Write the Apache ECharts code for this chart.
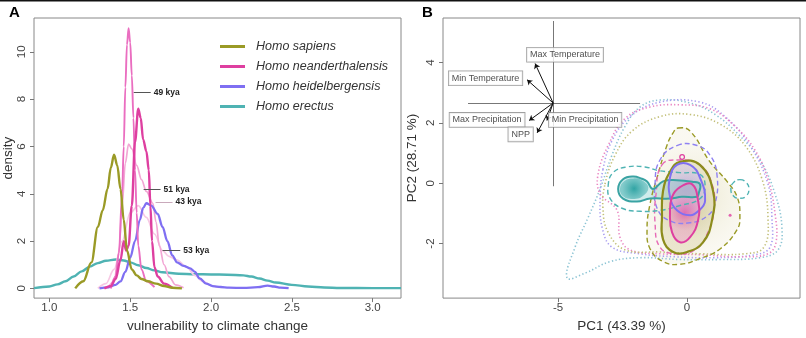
<!DOCTYPE html>
<html><head><meta charset="utf-8">
<script src="https://cdn.jsdelivr.net/npm/echarts@6/dist/echarts.min.js"></script>
<style>html,body{margin:0;padding:0;background:#fff}#c{width:806px;height:338px}</style>
</head><body><div id="c"></div>
<script>
// ---------- Panel A: density curves (x = vulnerability, y = density) ----------
const xTicksA = [1.0, 1.5, 2.0, 2.5, 3.0];
const yTicksA = [0, 2, 4, 6, 8, 10];
const speciesNames = ['Homo sapiens', 'Homo neanderthalensis', 'Homo heidelbergensis', 'Homo erectus'];

const sapiens = [[1.16,0],[1.21,0.3],[1.26,1.1],[1.3,2.6],[1.33,3.3],[1.36,4.2],[1.38,5.1],[1.4,5.65],[1.42,5.2],[1.44,4.2],[1.46,2.9],[1.48,1.6],[1.51,0.8],[1.54,0.55],[1.57,0.4],[1.61,0.3],[1.66,0.2],[1.71,0.1],[1.76,0.03],[1.82,0]];
const erectus = [[0.905,0.01],[1.0,0.08],[1.05,0.17],[1.1,0.3],[1.15,0.5],[1.2,0.72],[1.25,0.92],[1.3,1.07],[1.35,1.17],[1.41,1.22],[1.46,1.18],[1.5,1.1],[1.55,0.98],[1.6,0.86],[1.65,0.76],[1.7,0.68],[1.8,0.62],[1.9,0.6],[2.0,0.59],[2.1,0.58],[2.2,0.55],[2.25,0.5],[2.3,0.42],[2.35,0.33],[2.4,0.25],[2.5,0.15],[2.6,0.08],[2.7,0.04],[2.8,0.02],[3.0,0.01],[3.175,0.01]];
const heidelbergensis = [[1.31,0],[1.36,0.04],[1.41,0.15],[1.44,0.3],[1.47,0.7],[1.5,1.3],[1.53,2.0],[1.56,2.9],[1.58,3.4],[1.6,3.6],[1.63,3.5],[1.67,3.15],[1.7,2.6],[1.73,2.0],[1.76,1.4],[1.79,1.1],[1.83,0.95],[1.87,0.85],[1.9,0.7],[1.93,0.42],[1.97,0.2],[2.01,0.1],[2.06,0.06],[2.11,0.03],[2.2,0.02],[2.29,0.05],[2.35,0.12],[2.39,0.08],[2.43,0.03],[2.48,0.01]];
const nean51 = [[1.34,0],[1.38,0.1],[1.41,0.4],[1.44,1.2],[1.46,2.0],[1.475,1.6],[1.49,1.8],[1.51,3.5],[1.53,6.2],[1.55,7.6],[1.565,7.2],[1.58,6.3],[1.6,5.8],[1.615,5.0],[1.625,3.5],[1.635,2.0],[1.65,0.9],[1.67,0.5],[1.71,0.2],[1.76,0.03]];
const nean49 = [[1.38,0],[1.41,0.5],[1.43,1.5],[1.45,4.0],[1.46,6.0],[1.47,8.5],[1.48,10.3],[1.49,11.0],[1.5,10.4],[1.51,9.0],[1.52,7.2],[1.53,5.0],[1.54,3.2],[1.55,1.8],[1.57,0.8],[1.6,0.3],[1.65,0.05]];
const nean43 = [[1.36,0],[1.4,0.3],[1.43,1.5],[1.45,3.5],[1.47,5.3],[1.49,6.1],[1.51,5.9],[1.54,5.2],[1.57,4.6],[1.6,4.1],[1.64,3.6],[1.66,2.8],[1.68,1.8],[1.71,1.0],[1.74,0.5],[1.78,0.15],[1.83,0.03]];
const nean53 = [[1.3,0],[1.35,0.2],[1.4,0.8],[1.45,2.0],[1.5,3.2],[1.55,3.5],[1.6,3.0],[1.65,2.3],[1.7,1.6],[1.74,1.35],[1.79,1.2],[1.85,0.9],[1.9,0.55],[1.95,0.3],[2.0,0.12],[2.05,0.04]];

// annotations
const kyaLabels = ['49 kya', '51 kya', '43 kya', '53 kya'];
const kyaStart = [1.522, 1.583, 1.657, 1.70];
const kyaEnd = [1.627, 1.688, 1.762, 1.81];
const kyaY = [8.28, 4.18, 3.65, 1.6];

// ---------- Panel B: PCA ----------
const xTicksB = [-5, 0];
const yTicksB = [-2, 0, 2, 4];
const loadNames = ['Max Temperature', 'Min Temperature', 'Max Precipitation', 'Min Precipitation', 'NPP'];
const loadOrigin = [-5.19, 2.66];
const loadTips = [[-5.89,3.97],[-6.20,3.43],[-6.12,2.08],[-5.43,2.08],[-5.81,1.67]];
const loadLabelPos = [[-4.73,4.26],[-7.81,3.48],[-7.75,2.10],[-3.95,2.10],[-6.45,1.62]];
const refVertical = [[-5.19,5.38],[-5.19,-0.1]];
const refHorizontal = [[-8.49,2.66],[-1.82,2.66]];

const tealDotted = [[-4.65,-3.14],[-4.34,-2.12],[-3.84,-1.15],[-3.37,-0.19],[-2.91,0.93],[-2.40,1.89],[-1.82,2.53],[-1.05,2.76],[0.12,2.66],[1.09,2.28],[2.05,1.57],[2.83,0.77],[3.41,-0.35],[3.68,-1.47],[3.53,-2.21],[2.83,-2.47],[1.28,-2.53],[-0.27,-2.53],[-1.82,-2.47],[-2.98,-2.60],[-3.95,-2.98]];
const pinkDotted = [[-3.45,0.29],[-3.06,1.25],[-2.40,2.15],[-1.43,2.53],[-0.27,2.60],[0.89,2.47],[1.86,1.89],[2.64,1.09],[3.14,0.13],[3.41,-0.99],[3.45,-1.96],[3.14,-2.34],[2.05,-2.44],[0.50,-2.37],[-1.05,-2.34],[-2.21,-2.21],[-2.60,-1.79],[-2.71,-0.90],[-3.37,-0.35]];
const purpleDotted = [[-3.26,0.45],[-2.91,1.41],[-2.21,2.21],[-1.05,2.69],[0.50,2.69],[1.47,2.21],[2.44,1.25],[3.14,-0.03],[3.29,-1.15],[3.22,-2.12],[2.64,-2.37],[1.09,-2.47],[-0.47,-2.44],[-1.82,-2.34],[-2.91,-2.12],[-3.29,-1.47],[-3.37,-0.51]];
const oliveDotted = [[-3.18,-0.03],[-2.79,0.93],[-2.13,1.73],[-1.05,2.21],[0.12,2.28],[1.28,1.96],[2.25,1.25],[2.91,0.13],[3.14,-1.15],[2.98,-2.12],[2.25,-2.34],[0.50,-2.34],[-1.05,-2.28],[-2.40,-2.21],[-3.06,-1.63],[-3.26,-0.83]];
const oliveDashed = [[-0.35,1.83],[0.12,1.73],[0.89,0.71],[1.55,0.06],[1.94,-0.45],[2.05,-1.09],[1.94,-1.54],[1.28,-2.18],[0.50,-2.50],[-0.27,-2.69],[-0.93,-2.60],[-1.43,-2.18],[-1.55,-1.54],[-1.43,-0.67],[-1.16,0.19],[-0.78,1.25],[-0.54,1.67]];
const purpleDashed = [[-0.39,1.25],[0.39,1.25],[0.89,0.93],[1.16,0.29],[1.09,-0.67],[0.78,-1.09],[0.12,-1.31],[-0.66,-1.25],[-1.16,-0.83],[-1.24,-0.03],[-1.05,0.77]];
const pinkDashed = [[-0.97,0.61],[-0.27,0.77],[0.50,0.61],[0.97,-0.03],[1.05,-0.83],[0.81,-1.63],[0.31,-2.21],[-0.47,-2.34],[-1.05,-2.12],[-1.24,-1.31],[-1.20,-0.35]];
const tealDashed = [[-3.06,-0.10],[-2.87,0.35],[-2.33,0.54],[-1.63,0.54],[-1.12,0.42],[-0.27,0.35],[0.50,0.29],[0.70,-0.10],[0.50,-0.51],[-0.27,-0.74],[-1.05,-0.90],[-1.82,-0.93],[-2.52,-0.83],[-2.98,-0.51]];
const tealDashedSmall = [[2.05,0.12],[2.3,0.02],[2.4,-0.19],[2.3,-0.42],[2.05,-0.5],[1.8,-0.42],[1.7,-0.19],[1.8,0.02]];
const tealSolid = [[-2.67,-0.19],[-2.48,0.13],[-2.09,0.22],[-1.75,0.15],[-1.55,0.06],[-1.32,-0.19],[-0.93,0.06],[-0.4,0.1],[0.2,0.05],[0.5,-0.03],[0.45,-0.35],[0.39,-0.45],[-0.2,-0.45],[-0.66,-0.51],[-1.43,-0.51],[-1.94,-0.61],[-2.48,-0.51]];
const tealCore = [[-2.6,-0.19],[-2.42,0.08],[-2.09,0.16],[-1.75,0.1],[-1.5,-0.15],[-1.75,-0.45],[-2.1,-0.52],[-2.45,-0.45]];
const oliveSolid = [[-0.27,0.71],[0.50,0.61],[1.01,-0.26],[0.97,-1.22],[0.62,-1.96],[0,-2.28],[-0.54,-2.28],[-0.93,-1.86],[-0.97,-1.09],[-0.93,-0.26],[-0.66,0.38]];
const purpleSolid = [[-0.39,0.61],[0.12,0.61],[0.50,0.19],[0.70,-0.58],[0.43,-0.93],[0.12,-1.06],[-0.39,-0.90],[-0.66,-0.45],[-0.66,0.19]];
const magentaSolid = [[-0.27,-0.13],[0.19,-0.03],[0.43,-0.58],[0.43,-1.22],[0.12,-1.79],[-0.27,-1.96],[-0.58,-1.63],[-0.66,-0.99],[-0.58,-0.45]];
const magentaSmall = [[-0.19,0.95],[-0.1,0.87],[-0.19,0.79],[-0.28,0.87]];
const magentaDot = [[1.67,-1.06]];

const C = {
  olive: '#9a9a26', magenta: '#de3fa0', pink: '#ea6ec0', lightPink: '#f2a6d4', paler: '#f7c8e4',
  purple: '#7f6ff2', teal: '#4fb3b3'
};
const FONT = 'Liberation Sans, Arial, sans-serif';

function lineA(name, data, color, width) {
  return { type: 'line', name: name, data: data, xAxisIndex: 0, yAxisIndex: 0, showSymbol: false, symbol: 'none',
    smooth: 0.35, smoothMonotone: 'x', lineStyle: { color: color, width: width }, itemStyle: { color: color }, silent: true, z: 3 };
}
function poly(pts, style, closed, smooth, z) {
  return { type: 'custom', xAxisIndex: 1, yAxisIndex: 1, silent: true, clip: true, z: z,
    data: [[pts[0][0], pts[0][1]]],
    renderItem: function (params, api) {
      const p = pts.map(function (d) { return api.coord(d); });
      return { type: closed ? 'polygon' : 'polyline', shape: { points: p, smooth: smooth }, style: style };
    }
  };
}
function radial(c0, c1) {
  return { type: 'radial', x: 0.5, y: 0.5, r: 0.6, colorStops: [{ offset: 0, color: c0 }, { offset: 1, color: c1 }] };
}
const dot = [1.3, 2.3], dash = [5, 3];
function dotted(pts, color) {
  return poly(pts, { fill: 'none', stroke: color, lineWidth: 1.6, lineDash: dot, lineCap: 'butt' }, true, 0.4, 2);
}

const series = [
  lineA('Homo erectus', erectus, C.teal, 2.4),
  lineA('Homo neanderthalensis', nean53, C.paler, 1.7),
  lineA('Homo neanderthalensis', nean43, C.lightPink, 1.7),
  lineA('Homo heidelbergensis', heidelbergensis, C.purple, 2.3),
  lineA('Homo neanderthalensis', nean49, C.pink, 1.9),
  lineA('Homo neanderthalensis', nean51, C.magenta, 2.4),
  lineA('Homo sapiens', sapiens, C.olive, 2.4),
  { type: 'lines', coordinateSystem: 'cartesian2d', xAxisIndex: 0, yAxisIndex: 0, silent: true, z: 5,
    lineStyle: { color: '#555', width: 1, opacity: 1 },
    label: { show: true, position: 'end', distance: 3, fontFamily: FONT, fontSize: 8.5, fontWeight: 'bold', color: '#222',
      formatter: function (p) { return p.data.name; } },
    data: kyaLabels.map(function (t, i) { return { name: t, coords: [[kyaStart[i], kyaY[i]], [kyaEnd[i], kyaY[i]]],
      lineStyle: i === 2 ? { color: '#c9a9bb' } : {} }; }) },

  // Panel B fills
  poly(oliveDashed, { fill: radial('rgba(220,214,170,0.55)', 'rgba(240,236,215,0.35)'), stroke: 'none' }, true, 0.45, 1),
  poly(oliveSolid, { fill: radial('rgba(200,190,140,0.7)', 'rgba(220,212,170,0.5)'), stroke: 'none' }, true, 0.45, 1),
  poly(purpleSolid, { fill: radial('rgba(170,150,240,0.6)', 'rgba(205,190,245,0.45)'), stroke: 'none' }, true, 0.45, 1),
  poly(magentaSolid, { fill: radial('rgba(225,80,170,0.75)', 'rgba(235,150,200,0.45)'), stroke: 'none' }, true, 0.45, 1),
  poly(tealSolid, { fill: 'rgba(120,200,200,0.35)', stroke: 'none' }, true, 0.45, 1),
  poly(tealCore, { fill: radial('rgba(40,160,160,0.95)', 'rgba(100,190,190,0.7)'), stroke: 'none' }, true, 0.45, 1),
  // dotted
  dotted(tealDotted, '#8cc4d4'),
  dotted(purpleDotted, '#a99ef0'),
  dotted(pinkDotted, '#ea86c2'),
  dotted(oliveDotted, '#c2bf78'),
  // dashed
  poly(oliveDashed, { fill: 'none', stroke: C.olive, lineWidth: 1.4, lineDash: dash }, true, 0.45, 3),
  poly(purpleDashed, { fill: 'none', stroke: '#8f82f2', lineWidth: 1.4, lineDash: dash }, true, 0.45, 3),
  poly(pinkDashed, { fill: 'none', stroke: '#e66ab6', lineWidth: 1.4, lineDash: dash }, true, 0.45, 3),
  poly(tealDashed, { fill: 'none', stroke: C.teal, lineWidth: 1.4, lineDash: dash }, true, 0.45, 3),
  poly(tealDashedSmall, { fill: 'none', stroke: C.teal, lineWidth: 1.4, lineDash: dash }, true, 0.5, 3),
  // solid
  poly(tealSolid, { fill: 'none', stroke: '#3aa3a3', lineWidth: 2 }, true, 0.45, 4),
  poly(oliveSolid, { fill: 'none', stroke: '#8c8c1c', lineWidth: 2.2 }, true, 0.45, 4),
  poly(purpleSolid, { fill: 'none', stroke: C.purple, lineWidth: 2 }, true, 0.45, 4),
  poly(magentaSolid, { fill: 'none', stroke: C.magenta, lineWidth: 2 }, true, 0.45, 4),
  poly(magentaSmall, { fill: 'none', stroke: C.magenta, lineWidth: 1.2 }, true, 0.5, 4),
  { type: 'scatter', xAxisIndex: 1, yAxisIndex: 1, data: magentaDot, symbolSize: 3, itemStyle: { color: C.magenta }, silent: true, z: 4 },
  // biplot
  { type: 'lines', coordinateSystem: 'cartesian2d', xAxisIndex: 1, yAxisIndex: 1, silent: true, z: 6,
    lineStyle: { color: '#777', width: 1, opacity: 1 },
    data: [{ coords: refVertical }, { coords: refHorizontal }] },
  { type: 'lines', coordinateSystem: 'cartesian2d', xAxisIndex: 1, yAxisIndex: 1, silent: true, z: 7,
    symbol: ['none', 'arrow'], symbolSize: 5,
    lineStyle: { color: '#111', width: 1, opacity: 1 },
    data: loadTips.map(function (t) { return { coords: [loadOrigin, t] }; }) },
  { type: 'scatter', xAxisIndex: 1, yAxisIndex: 1, silent: true, z: 8, symbolSize: 0,
    data: loadLabelPos.map(function (p, i) { return { name: loadNames[i], value: p }; }),
    label: { show: true, position: 'inside', formatter: function (p) { return p.name; }, fontFamily: FONT, fontSize: 9,
      color: '#222', backgroundColor: '#fff', borderColor: '#888', borderWidth: 0.8, padding: [3, 3, 2, 3] } }
];

const axisCommon = {
  type: 'value', splitLine: { show: false },
  axisLine: { show: false, onZero: false },
  axisTick: { show: true, length: 4, lineStyle: { color: '#777' } },
  axisLabel: { fontFamily: FONT, fontSize: 11.5, color: '#444' },
  nameTextStyle: { fontFamily: FONT, fontSize: 13.5, color: '#333' }
};
function ax(extra) { return echarts.util.merge(echarts.util.clone(axisCommon), extra, true); }

const option = {
  animation: false,
  backgroundColor: '#fff',
  title: [
    { text: 'A', left: 4, top: 0, textStyle: { fontFamily: FONT, fontSize: 15, fontWeight: 'bold', color: '#000' } },
    { text: 'B', left: 417, top: 0, textStyle: { fontFamily: FONT, fontSize: 15, fontWeight: 'bold', color: '#000' } }
  ],
  graphic: [{ type: 'rect', shape: { x: 0, y: 0, width: 806, height: 1.5 }, style: { fill: '#111' }, silent: true }],
  legend: {
    orient: 'vertical', left: 215, top: 35, itemGap: 7, itemWidth: 25, itemHeight: 3, icon: 'rect', selectedMode: false,
    textStyle: { fontFamily: FONT, fontSize: 12.5, fontStyle: 'italic', color: '#333', padding: [0, 0, 0, 6] },
    data: [
      { name: speciesNames[0], itemStyle: { color: C.olive } },
      { name: speciesNames[1], itemStyle: { color: C.magenta } },
      { name: speciesNames[2], itemStyle: { color: C.purple } },
      { name: speciesNames[3], itemStyle: { color: C.teal } }
    ]
  },
  grid: [
    { left: 33, top: 18, width: 368, height: 289, show: true, borderColor: '#888', borderWidth: 1, containLabel: false },
    { left: 443, top: 18, width: 357, height: 290, show: true, borderColor: '#888', borderWidth: 1, containLabel: false }
  ],
  xAxis: [
    ax({ gridIndex: 0, min: 0.905, max: 3.175, name: 'vulnerability to climate change', nameLocation: 'middle', nameGap: 20,
      axisTick: { customValues: xTicksA }, axisLabel: { customValues: xTicksA, margin: 4, formatter: function (v) { return v.toFixed(1); } } }),
    ax({ gridIndex: 1, min: -9.46, max: 4.38, name: 'PC1 (43.39 %)', nameLocation: 'middle', nameGap: 20,
      axisTick: { customValues: xTicksB }, axisLabel: { customValues: xTicksB, margin: 4 } })
  ],
  yAxis: [
    ax({ gridIndex: 0, min: -0.41, max: 11.43, name: 'density', nameLocation: 'middle', nameGap: 19,
      axisTick: { customValues: yTicksA }, axisLabel: { customValues: yTicksA, rotate: 90, margin: 6 } }),
    ax({ gridIndex: 1, min: -3.81, max: 5.48, name: 'PC2 (28.71 %)', nameLocation: 'middle', nameGap: 24,
      axisTick: { customValues: yTicksB }, axisLabel: { customValues: yTicksB, rotate: 90, margin: 6 } })
  ],
  series: series
};

const chart = echarts.init(document.getElementById('c'), null, { renderer: 'canvas' });
chart.setOption(option);
</script>
</body></html>
